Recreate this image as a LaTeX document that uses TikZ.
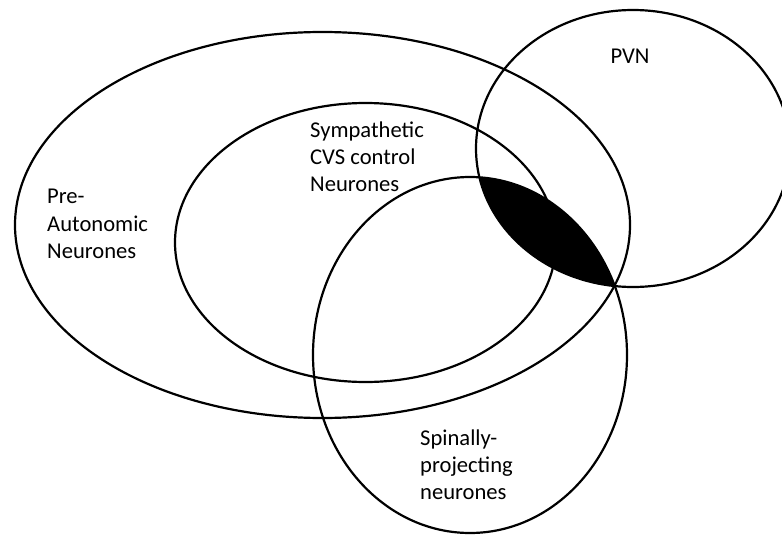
\documentclass[tikz,border=0pt]{standalone}
\usepackage{fontspec}
\setmainfont{Carlito}
\usepackage{tikz}
\tikzset{
    setline/.style={
           draw=black,
           line width=2.2pt,
           },
    setlabel/.style={
           align=left,
           inner sep=0pt,
           anchor=west,
           font=\fontsize{22.6}{27.2}\selectfont,
           },
}

\begin{document}
\begin{tikzpicture}[x=1pt, y=-1pt]
    \useasboundingbox (0,0) rectangle (782,535);

    % shaded part: overlap of PVN and spinally-projecting
    \begin{scope}
        \clip (633,148.5) ellipse [x radius=157, y radius=138.5];
        \fill[black] (470,355) ellipse [x radius=157, y radius=178];
    \end{scope}

    % the four sets
    \draw[setline] (322.5,225) ellipse [x radius=307.5, y radius=193];   % pre-autonomic
    \draw[setline] (365.5,242.5) ellipse [x radius=190.5, y radius=139.5]; % sympathetic
    \draw[setline] (633,148.5) ellipse [x radius=157, y radius=138.5];   % PVN
    \draw[setline] (470,355) ellipse [x radius=157, y radius=178];       % spinally-projecting

    % labels
    \node[setlabel] (preaut) at (47,224) {Pre-\\Autonomic\\Neurones};
    \node[setlabel] (symp) at (310,157) {Sympathetic\\CVS control\\Neurones};
    \node[setlabel, anchor=center] (pvn) at (630,56.5) {PVN};
    \node[setlabel] (spinal) at (420,465) {Spinally-\\projecting\\neurones};
\end{tikzpicture}
\end{document}
